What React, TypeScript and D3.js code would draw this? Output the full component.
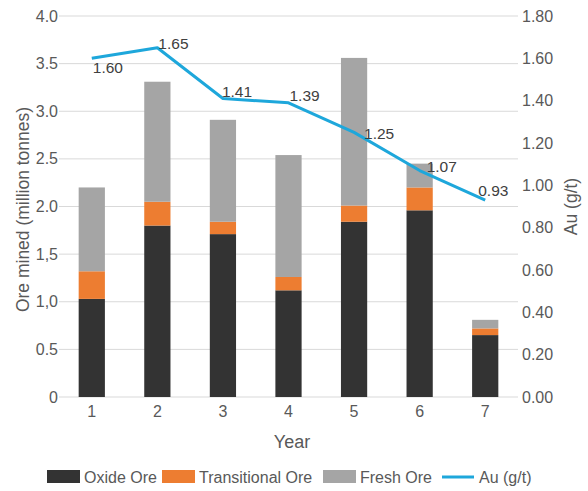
import React from "react";
import * as d3 from "d3";

const years = ["1", "2", "3", "4", "5", "6", "7"];
const oxideOre = [1.03, 1.8, 1.71, 1.12, 1.84, 1.96, 0.65];
const transitionalOre = [0.29, 0.25, 0.13, 0.14, 0.17, 0.24, 0.07];
const freshOre = [0.88, 1.26, 1.07, 1.28, 1.55, 0.25, 0.09];
const auGrade = [1.6, 1.65, 1.41, 1.39, 1.25, 1.07, 0.93];
const leftTickValues = [0, 0.5, 1, 1.5, 2, 2.5, 3, 3.5, 4];
const leftTickLabels = ["0", "0.5", "1,0", "1,5", "2.0", "2.5", "3.0", "3.5", "4.0"];
const rightTickValues = [0, 0.2, 0.4, 0.6, 0.8, 1.0, 1.2, 1.4, 1.6, 1.8];

// label offsets (dx from point to label start, dy to label middle)
const labelOffsets: [number, number][] = [
  [1, 9], [1, -4], [-1, -6.5], [1, -7], [10, 1], [7, -3.5], [-7, -10],
];

const W = 588;
const H = 491;
const M = { left: 59, right: 518, top: 16, bottom: 397 };
const FONT = "'Liberation Sans', Arial, sans-serif";
const COLORS = { oxide: "#333333", trans: "#ED7D31", fresh: "#A5A5A5", au: "#1EA7DB" };

export default function App() {
  const x = d3.scaleBand<string>().domain(years).range([M.left, M.right]).paddingInner(0.6).paddingOuter(0.3);
  const yL = d3.scaleLinear().domain([0, 4]).range([M.bottom, M.top]);
  const yR = d3.scaleLinear().domain([0, 1.8]).range([M.bottom, M.top]);

  const stackData = years.map((yr, i) => ({ yr, oxide: oxideOre[i], trans: transitionalOre[i], fresh: freshOre[i] }));
  const keys = ["oxide", "trans", "fresh"] as const;
  const series = d3.stack<any>().keys(keys as any)(stackData);

  const cx = (i: number) => (x(years[i]) as number) + x.bandwidth() / 2;
  const line = d3.line<number>().x((_, i) => cx(i)).y((d) => yR(d));

  const legendItems = [
    { label: "Oxide Ore", color: COLORS.oxide, x: 47, type: "rect" },
    { label: "Transitional Ore", color: COLORS.trans, x: 162, type: "rect" },
    { label: "Fresh Ore", color: COLORS.fresh, x: 323, type: "rect" },
    { label: "Au (g/t)", color: COLORS.au, x: 442, type: "line" },
  ];

  return (
    <svg width={W} height={H} style={{ position: "absolute", left: 0, top: 0, background: "#fff" }} fontFamily={FONT}>
      {leftTickValues.map((v) => (
        <line key={v} x1={M.left} x2={M.right} y1={yL(v)} y2={yL(v)} stroke="#D9D9D9" strokeWidth={1} />
      ))}
      {series.map((s) => (
        <g key={s.key} fill={(COLORS as any)[s.key]}>
          {s.map((d, i) => (
            <rect key={i} x={x(years[i])} width={x.bandwidth()} y={yL(d[1])} height={yL(d[0]) - yL(d[1])} />
          ))}
        </g>
      ))}
      <path d={line(auGrade) || ""} fill="none" stroke={COLORS.au} strokeWidth={3} strokeLinejoin="round" />
      {auGrade.map((v, i) => (
        <text key={i} x={cx(i) + labelOffsets[i][0]} y={yR(v) + labelOffsets[i][1]} dy="0.35em" fontSize={15.5} fill="#404040">
          {v.toFixed(2)}
        </text>
      ))}
      {leftTickValues.map((v, i) => (
        <text key={v} x={58} y={yL(v)} dy="0.35em" textAnchor="end" fontSize={16} fill="#595959">
          {leftTickLabels[i]}
        </text>
      ))}
      {rightTickValues.map((v) => (
        <text key={v} x={522} y={yR(v)} dy="0.35em" fontSize={16} fill="#595959">
          {v.toFixed(2)}
        </text>
      ))}
      {years.map((yr, i) => (
        <text key={yr} x={cx(i)} y={417} textAnchor="middle" fontSize={16} fill="#595959">
          {yr}
        </text>
      ))}
      <text x={292} y={448} textAnchor="middle" fontSize={18} fill="#595959">Year</text>
      <text transform={`translate(29,${(M.top + M.bottom) / 2 + 3}) rotate(-90)`} textAnchor="middle" fontSize={17.5} fill="#595959">
        Ore mined (million tonnes)
      </text>
      <text transform={`translate(577,${(M.top + M.bottom) / 2}) rotate(-90)`} textAnchor="middle" fontSize={17.5} fill="#595959">
        Au (g/t)
      </text>
      {legendItems.map((it) => (
        <g key={it.label}>
          {it.type === "rect" ? (
            <rect x={it.x} y={470} width={33} height={13} fill={it.color} />
          ) : (
            <line x1={it.x} x2={it.x + 32} y1={477} y2={477} stroke={it.color} strokeWidth={3} />
          )}
          <text x={it.x + 37} y={477} dy="0.35em" fontSize={16} fill="#595959">{it.label}</text>
        </g>
      ))}
    </svg>
  );
}
